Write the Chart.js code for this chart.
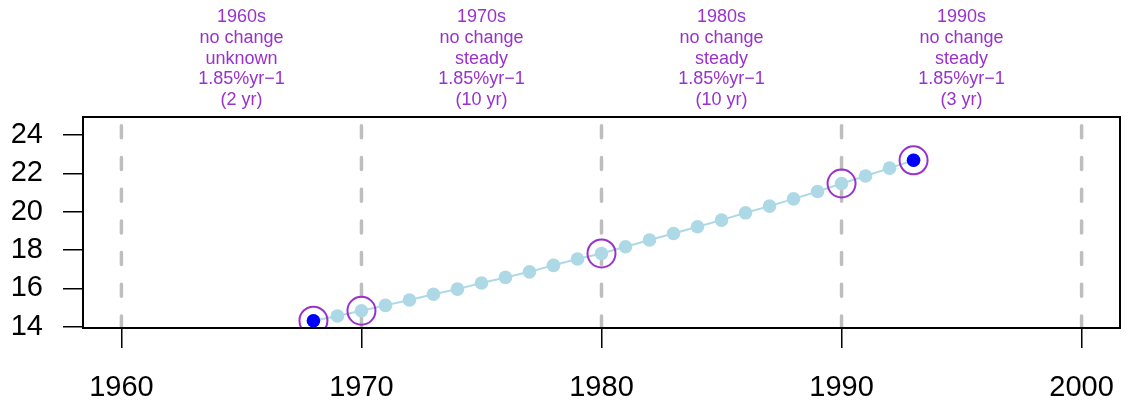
<!DOCTYPE html>
<html>
<head>
<meta charset="utf-8">
<script src="https://cdn.jsdelivr.net/npm/chart.js@4/dist/chart.umd.min.js"></script>
<style>
  html, body { margin: 0; padding: 0; background: #ffffff; }
  #wrap { width: 1128px; height: 405px; position: relative; }
</style>
</head>
<body>
<div id="wrap"><canvas id="c" width="1128" height="405"></canvas></div>
<script>
// ---- data ----
const years = [1968,1969,1970,1971,1972,1973,1974,1975,1976,1977,1978,1979,1980,
               1981,1982,1983,1984,1985,1986,1987,1988,1989,1990,1991,1992,1993];
const values = [14.31,14.56,14.83,15.11,15.39,15.69,15.96,16.28,16.57,16.86,17.20,17.53,17.82,
                18.17,18.52,18.86,19.21,19.56,19.94,20.29,20.67,21.05,21.47,21.86,22.27,22.68];
const endpointYears = [1968, 1993];
const circledYears = [1968, 1970, 1980, 1990, 1993];
const decadeLines = [1960, 1970, 1980, 1990, 2000];
const xTicks = [1960, 1970, 1980, 1990, 2000];
const yTicks = [14, 16, 18, 20, 22, 24];
const xLimits = [1958.4, 2001.6];
const yLimits = [13.93, 24.94];
// annotation texts, one per decade (centred at decade + 5)
const decadeStarts = [1960, 1970, 1980, 1990];
const decadeNames = ['1960s', '1970s', '1980s', '1990s'];
const changeLabels = ['no change', 'no change', 'no change', 'no change'];
const trendLabels = ['unknown', 'steady', 'steady', 'steady'];
const rateLabels = ['1.85%yr\u22121', '1.85%yr\u22121', '1.85%yr\u22121', '1.85%yr\u22121'];
const spanLabels = ['(2 yr)', '(10 yr)', '(10 yr)', '(3 yr)'];

const valueOf = y => values[years.indexOf(y)];
const PURPLE = '#9932CC';
const FONT = '"Liberation Sans", Arial, Helvetica, sans-serif';

const datasets = [];
decadeLines.forEach(d => {
  datasets.push({
    type: 'line',
    data: [{x: d, y: yLimits[0]}, {x: d, y: yLimits[1]}],
    borderColor: '#BEBEBE',
    borderWidth: 3.5,
    borderDash: [12, 19.7],
    borderCapStyle: 'round',
    pointRadius: 0,
    order: 10,
    clip: 0
  });
});
datasets.push({
  type: 'line',
  data: years.map((y, i) => ({x: y, y: values[i]})),
  borderColor: '#ADD8E6',
  borderWidth: 2,
  pointRadius: 6.8,
  pointBackgroundColor: '#ADD8E6',
  pointBorderWidth: 0,
  order: 5,
  clip: 0
});
datasets.push({
  type: 'line',
  showLine: false,
  data: endpointYears.map(y => ({x: y, y: valueOf(y)})),
  pointRadius: 6.8,
  pointBackgroundColor: '#0000FF',
  pointBorderWidth: 0,
  order: 3,
  clip: 0
});
datasets.push({
  type: 'line',
  showLine: false,
  data: circledYears.map(y => ({x: y, y: valueOf(y)})),
  pointRadius: 14,
  pointBackgroundColor: 'rgba(0,0,0,0)',
  pointBorderColor: PURPLE,
  pointBorderWidth: 2,
  order: 1,
  clip: 0
});

const boxPlugin = {
  id: 'box',
  afterDatasetsDraw(chart) {
    const a = chart.chartArea, ctx = chart.ctx;
    ctx.save();
    ctx.strokeStyle = '#000';
    ctx.lineWidth = 2;
    ctx.strokeRect(a.left, a.top, a.right - a.left, a.bottom - a.top);
    ctx.restore();
  }
};

const annotPlugin = {
  id: 'annot',
  afterDraw(chart) {
    const ctx = chart.ctx, xs = chart.scales.x;
    ctx.save();
    ctx.fillStyle = PURPLE;
    ctx.font = '18px ' + FONT;
    ctx.textAlign = 'center';
    ctx.textBaseline = 'alphabetic';
    const baselines = [21.7, 42.6, 63.5, 84.4, 105.3];
    decadeStarts.forEach((d, i) => {
      const x = xs.getPixelForValue(d + 5);
      const lines = [decadeNames[i], changeLabels[i], trendLabels[i], rateLabels[i], spanLabels[i]];
      lines.forEach((t, j) => ctx.fillText(t, x, baselines[j]));
    });
    ctx.restore();
  }
};

new Chart(document.getElementById('c'), {
  type: 'line',
  data: { datasets },
  options: {
    responsive: false,
    animation: false,
    devicePixelRatio: 1,
    layout: { autoPadding: false, padding: { top: 117, right: 8, left: 0, bottom: 0 } },
    plugins: { legend: { display: false }, tooltip: { enabled: false } },
    scales: {
      x: {
        type: 'linear',
        min: xLimits[0], max: xLimits[1],
        afterBuildTicks: s => { s.ticks = xTicks.map(v => ({value: v})); },
        afterFit: s => { s.height = 77; s.paddingLeft = 0; s.paddingRight = 0; },
        border: { display: false },
        grid: { drawOnChartArea: false, drawTicks: true, tickLength: 20, color: '#000', lineWidth: 1.5 },
        ticks: { color: '#000', font: { family: FONT, size: 29 }, padding: 23, maxRotation: 0, autoSkip: false,
                 callback: v => String(v) }
      },
      y: {
        type: 'linear',
        min: yLimits[0], max: yLimits[1],
        afterBuildTicks: s => { s.ticks = yTicks.map(v => ({value: v})); },
        afterFit: s => { s.width = 83; s.paddingTop = 0; s.paddingBottom = 0; },
        border: { display: false },
        grid: { drawOnChartArea: false, drawTicks: true, tickLength: 20, color: '#000', lineWidth: 1.5 },
        ticks: { color: '#000', font: { family: FONT, size: 29 }, padding: 20, autoSkip: false,
                 callback: v => String(v) }
      }
    }
  },
  plugins: [boxPlugin, annotPlugin]
});
</script>
</body>
</html>
